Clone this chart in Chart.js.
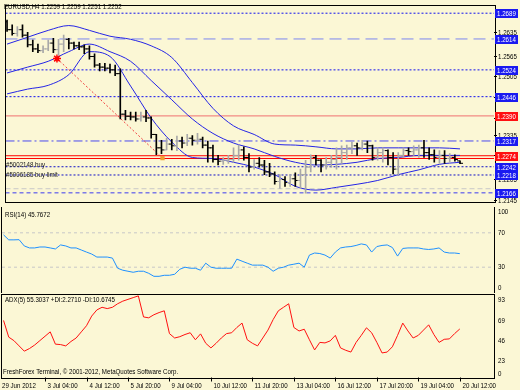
<!DOCTYPE html>
<html><head><meta charset="utf-8">
<script src="https://cdn.jsdelivr.net/npm/chart.js@4.4.1/dist/chart.umd.min.js"></script>
<style>
html,body{margin:0;padding:0;background:#FBF7D5;}
#wrap{position:relative;width:520px;height:390px;overflow:hidden;background:#FBF7D5;}
canvas{position:absolute;left:0;}
</style></head><body>
<div id="wrap">
<canvas id="c1" width="520" height="207" style="top:0px"></canvas>
<canvas id="c2" width="520" height="86" style="top:207px"></canvas>
<canvas id="c3" width="520" height="97" style="top:293px"></canvas>
</div>
<script>
// ---------- DATA ----------
const symbolTitle = "EURUSD,H4 1.2259 1.2259 1.2251 1.2252";
const opens = [1.2664,1.2641,1.2630,1.2641,1.2625,1.2597,1.2585,1.2580,1.2585,1.2602,
 1.2583,1.2599,1.2613,1.2602,1.2594,1.2591,1.2585,1.2563,1.2538,1.2532,
 1.2529,1.2524,1.2513,1.2395,1.2389,1.2387,1.2381,1.2387,1.2384,1.2336,
 1.2297,1.2291,1.2308,1.2303,1.2317,1.2311,1.2325,1.2319,1.2322,1.2305,
 1.2297,1.2263,1.2258,1.2261,1.2263,1.2275,1.2291,1.2269,1.2241,1.2252,
 1.2247,1.2227,1.2221,1.2199,1.2205,1.2196,1.2207,1.2202,1.2219,1.2241,
 1.2269,1.2261,1.2247,1.2255,1.2263,1.2269,1.2283,1.2297,1.2303,1.2297,
 1.2308,1.2303,1.2269,1.2283,1.2289,1.2269,1.2235,1.2275,1.2289,1.2286,
 1.2291,1.2297,1.2283,1.2277,1.2269,1.2275,1.2266,1.2269,1.2259];
const highs = [1.2669,1.2655,1.2650,1.2655,1.2633,1.2611,1.2599,1.2594,1.2611,1.2616,
 1.2613,1.2625,1.2616,1.2605,1.2605,1.2597,1.2594,1.2571,1.2543,1.2543,
 1.2541,1.2538,1.2527,1.2406,1.2401,1.2401,1.2401,1.2406,1.2387,1.2336,
 1.2319,1.2325,1.2322,1.2331,1.2328,1.2336,1.2333,1.2339,1.2328,1.2317,
 1.2305,1.2275,1.2269,1.2275,1.2297,1.2305,1.2300,1.2280,1.2263,1.2269,
 1.2261,1.2252,1.2227,1.2219,1.2213,1.2219,1.2224,1.2235,1.2261,1.2277,
 1.2275,1.2263,1.2269,1.2275,1.2297,1.2303,1.2305,1.2314,1.2311,1.2319,
 1.2317,1.2305,1.2297,1.2297,1.2291,1.2283,1.2283,1.2297,1.2297,1.2303,
 1.2305,1.2319,1.2297,1.2291,1.2289,1.2289,1.2280,1.2277,1.2259];
const lows = [1.2636,1.2625,1.2622,1.2619,1.2591,1.2577,1.2574,1.2574,1.2580,1.2574,
 1.2566,1.2577,1.2585,1.2585,1.2583,1.2571,1.2555,1.2532,1.2521,1.2521,
 1.2515,1.2507,1.2381,1.2378,1.2378,1.2375,1.2375,1.2373,1.2325,1.2277,
 1.2280,1.2291,1.2291,1.2289,1.2297,1.2303,1.2305,1.2308,1.2297,1.2255,
 1.2255,1.2247,1.2249,1.2252,1.2255,1.2261,1.2261,1.2227,1.2235,1.2241,
 1.2219,1.2213,1.2191,1.2179,1.2185,1.2185,1.2185,1.2179,1.2165,1.2227,
 1.2247,1.2227,1.2235,1.2241,1.2235,1.2252,1.2263,1.2280,1.2275,1.2291,
 1.2283,1.2261,1.2261,1.2255,1.2247,1.2221,1.2219,1.2269,1.2275,1.2275,
 1.2269,1.2269,1.2263,1.2255,1.2252,1.2252,1.2255,1.2258,1.2251];
const closes = [1.2641,1.2630,1.2641,1.2625,1.2597,1.2585,1.2580,1.2585,1.2602,1.2583,
 1.2599,1.2613,1.2602,1.2594,1.2591,1.2585,1.2563,1.2538,1.2532,1.2529,
 1.2524,1.2513,1.2395,1.2389,1.2387,1.2381,1.2387,1.2384,1.2336,1.2297,
 1.2291,1.2308,1.2303,1.2317,1.2311,1.2325,1.2319,1.2322,1.2305,1.2297,
 1.2263,1.2258,1.2261,1.2263,1.2275,1.2291,1.2269,1.2241,1.2252,1.2247,
 1.2227,1.2221,1.2199,1.2205,1.2196,1.2207,1.2202,1.2219,1.2241,1.2269,
 1.2261,1.2247,1.2255,1.2263,1.2269,1.2283,1.2297,1.2303,1.2297,1.2308,
 1.2303,1.2269,1.2283,1.2289,1.2269,1.2235,1.2275,1.2289,1.2286,1.2291,
 1.2297,1.2283,1.2277,1.2269,1.2275,1.2266,1.2269,1.2263,1.2252];

// Bollinger bands, read at every 4th bar
const bandIdx    = [0,4,8,12,16,20,24,28,32,36,40,44,48,52,56,60,64,68,72,76,80,84,88];
const bandUpper  = [1.2599,1.2619,1.2639,1.2653,1.2639,1.2622,1.2613,1.2594,1.2560,1.2487,1.2412,1.2361,1.2336,1.2308,1.2305,1.2300,1.2294,1.2294,1.2297,1.2297,1.2297,1.2297,1.2294];
const bandMiddle = [1.2515,1.2532,1.2549,1.2577,1.2599,1.2577,1.2549,1.2493,1.2437,1.2381,1.2339,1.2311,1.2294,1.2272,1.2255,1.2247,1.2249,1.2255,1.2266,1.2269,1.2275,1.2275,1.2275];
const bandLower  = [1.2454,1.2468,1.2479,1.2510,1.2577,1.2563,1.2477,1.2384,1.2314,1.2269,1.2266,1.2255,1.2241,1.2219,1.2185,1.2174,1.2182,1.2191,1.2202,1.2219,1.2233,1.2249,1.2255];

// trade history line (open -> close)
const tradeX = [9.7, 30.2];
const tradeY = [1.2557, 1.2267];

// horizontal levels
const levelValues = [1.2689,1.2614,1.2524,1.2446,1.2390,1.2317,1.2274,1.2266,1.2242,1.2218,1.2178,1.2166];
const boxedLevels = ["1.2689","1.2614","1.2524","1.2446","1.2390","1.2317","1.2274","1.2242","1.2218","1.2166"];
const priceTicks  = ["1.2635","1.2565","1.2505","1.2445","1.2385","1.2335","1.2275","1.2205","1.2145"];
const orderLabels = ["#5002148 buy","#5006185 buy limit"];

// RSI(14)
const rsiTitle = "RSI(14) 45.7672";
const rsi = [67.6,61.8,61.8,62,54.7,52.4,52.4,53.5,53.5,52.4,
 51.2,55.9,54.7,52.4,52.4,50,47.6,45.3,41.8,41.8,
 41.8,40.6,28.8,26.5,25.3,24.1,25.3,25.3,22.9,19.4,
 19.4,20.6,20.6,21.8,27.6,30,28.8,28.8,26.5,34.7,
 30,28.8,28.8,28.8,28.8,39.4,37,34.7,32.4,32.4,
 32.4,30,25.3,28.8,30,32.4,33.5,34.7,30,44.1,
 46.5,45.9,44.1,40.6,47.6,52.4,53.5,54,55.3,57.1,
 55.9,47.6,54,55.3,55.9,52.9,42.9,51.8,52.4,52.4,
 52.4,51.2,50.6,51.2,52.4,47.6,46.5,46.5,45.77];
const rsiLevels = [70,30];
const rsiTicks = ["100","70","30","0"];

// ADX(5)
const adxTitle = "ADX(5) 55.3037 +DI:2.2710 -DI:10.6745";
const adx = [65,46,42,36,30,33,37,42,47,52,
 38,37.5,36,41,45,52,59,70,77,80,
 78.5,80,84,87,89,91,93,69,68,71.5,
 74,76,50,45,46.5,49,51,43,49.7,39,
 33.7,39,45,50,51,57,62,43,39,36,
 45,54,66,76,80,84,57,53,55,43,
 31.4,40,39.4,41.7,48,33.7,31,29,40,48,
 56.6,51,40,28,29,35,48,62,53,45,
 48,54,60,49,40,43.5,44,50,55.3];
const adxTicks = ["93","69","46","23","0"];

// time axis
const timeTickIdx = [0,8,16,24,32,40,48,56,64,72,80,88];
const timeLabels = ["29 Jun 2012","3 Jul 04:00","4 Jul 12:00","5 Jul 20:00","9 Jul 04:00","10 Jul 12:00","11 Jul 20:00","13 Jul 04:00","16 Jul 12:00","17 Jul 20:00","19 Jul 04:00","20 Jul 12:00"];
const copyright = "FreshForex Terminal, \u00a9 2001-2012, MetaQuotes Software Corp.";

// ---------- STYLE / HELPERS ----------
const X_MIN = -0.3, X_MAX = 94.6;
const UP = '#A8A8A8', DOWN = '#000000';
const BAND = '#2424E6';
const FONT = '"Liberation Sans", Arial, sans-serif';

function txt(ctx, s, x, y, o) {
  o = o || {};
  ctx.save();
  ctx.font = (o.bold ? 'bold ' : '') + (o.size || 7.5) + 'px ' + FONT;
  ctx.fillStyle = o.color || '#000';
  ctx.textBaseline = o.base || 'middle';
  ctx.textAlign = o.align || 'left';
  ctx.translate(x, y);
  ctx.scale(o.sx || 0.82, 1);
  ctx.fillText(s, 0, 0);
  ctx.restore();
}
function frame(ctx, a) {
  ctx.save();
  ctx.strokeStyle = '#000';
  ctx.lineWidth = 1;
  ctx.strokeRect(Math.round(a.left) - 0.5, Math.round(a.top) - 0.5, Math.round(a.right - a.left) + 1, Math.round(a.bottom - a.top) + 1);
  ctx.restore();
}
const baseOpts = (pad, ymin, ymax) => ({
  responsive: false, animation: false, events: [],
  layout: { padding: pad },
  plugins: { legend: { display: false }, tooltip: { enabled: false } },
  scales: {
    x: { type: 'linear', min: X_MIN, max: X_MAX, display: false, offset: false },
    y: { type: 'linear', min: ymin, max: ymax, display: false }
  }
});
const hline = (v, color, dash, width, order) => ({
  type: 'line', data: [{ x: X_MIN, y: v }, { x: X_MAX, y: v }],
  borderColor: color, borderDash: dash, borderWidth: width || 1, pointRadius: 0, order: order || 20
});

// level styles
const levelStyle = {
  1.2689: ['#1010F0', [2, 2]], 1.2614: ['#7C86F0', [12, 6]], 1.2524: ['#1010F0', [2, 2]],
  1.2446: ['#1010F0', [2, 2]], 1.2390: ['#F07070', []], 1.2317: ['#4A4AF0', [9, 3, 2, 3]],
  1.2274: ['#FF0000', []], 1.2266: ['#FF0000', []], 1.2242: ['#1010C8', [2, 2]],
  1.2218: ['#1010C8', [2, 2]], 1.2178: ['#C8C8C8', [5, 3]], 1.2166: ['#3A3AF0', [4, 3]]
};
const boxColor = v => (v === '1.2390' || v === '1.2274') ? '#FF1010' : '#1A1AF0';

// ---------- MAIN PRICE CHART ----------
const mainPlugin = {
  id: 'mainDeco',
  afterDraw(chart) {
    const ctx = chart.ctx, a = chart.chartArea, ys = chart.scales.y;
    frame(ctx, a);
    txt(ctx, symbolTitle, 4, 7);
    txt(ctx, orderLabels[0], 6, 165, { color: '#202020' });
    txt(ctx, orderLabels[1], 6, 175, { color: '#202020' });
    ctx.save();
    priceTicks.forEach(t => {
      const y = Math.round(ys.getPixelForValue(parseFloat(t))) + 0.5;
      ctx.strokeStyle = '#000'; ctx.beginPath(); ctx.moveTo(a.right, y); ctx.lineTo(a.right + 3, y); ctx.stroke();
      txt(ctx, t, a.right + 4, y);
    });
    boxedLevels.forEach(t => {
      const y = Math.round(ys.getPixelForValue(parseFloat(t)));
      ctx.fillStyle = boxColor(t);
      ctx.fillRect(a.right + 1, y - 4, 23, 9);
      txt(ctx, t, a.right + 3, y + 0.5, { color: '#FFFFFF' });
    });
    ctx.restore();
  }
};
const ds1 = [];
levelValues.forEach(v => { const s = levelStyle[v]; ds1.push(hline(v, s[0], s[1], 1, 20)); });
[bandUpper, bandMiddle, bandLower].forEach(b => ds1.push({
  type: 'line', data: bandIdx.map((x, k) => ({ x: x, y: b[k] })), borderColor: BAND, borderWidth: 1,
  pointRadius: 0, cubicInterpolationMode: 'monotone', order: 10
}));
ds1.push({
  type: 'line', data: tradeX.map((x, k) => ({ x: x, y: tradeY[k] })), borderColor: '#F04040', borderDash: [2, 2],
  borderWidth: 1, pointRadius: [4, 2], pointStyle: ['star', 'rect'], pointBorderColor: ['#FF0000', '#F0A030'],
  pointBackgroundColor: ['#FF0000', '#F0A030'], pointBorderWidth: 1.5, order: 8
});
const barCols = closes.map((c, i) => c >= opens[i] ? UP : DOWN);
ds1.push({
  type: 'bar', data: highs.map((h, i) => ({ x: i, y: [lows[i], h] })), backgroundColor: barCols,
  barThickness: 1, borderWidth: 0, grouped: false, order: 2
});
ds1.push({
  type: 'line', data: opens.map((o, i) => ({ x: i - 0.29, y: o })), showLine: false, pointStyle: 'line',
  pointRadius: 1.5, pointBorderColor: barCols, pointBorderWidth: 1, order: 1
});
ds1.push({
  type: 'line', data: closes.map((c, i) => ({ x: i + 0.29, y: c })), showLine: false, pointStyle: 'line',
  pointRadius: 1.5, pointBorderColor: barCols, pointBorderWidth: 1, order: 1
});
new Chart(document.getElementById('c1'), {
  type: 'bar', data: { datasets: ds1 },
  options: baseOpts({ left: 2, right: 26, top: 2, bottom: 1 }, 1.21408, 1.27114),
  plugins: [mainPlugin]
});

// ---------- RSI ----------
const rsiPlugin = {
  id: 'rsiDeco',
  afterDraw(chart) {
    const ctx = chart.ctx, a = chart.chartArea, ys = chart.scales.y;
    frame(ctx, a);
    txt(ctx, rsiTitle, 5, 8);
    rsiTicks.forEach(t => {
      let y = ys.getPixelForValue(parseFloat(t));
      y = Math.max(a.top + 5, Math.min(a.bottom - 5, y));
      txt(ctx, t, a.right + 4, y);
    });
  }
};
const ds2 = rsiLevels.map(v => hline(v, '#C8C8C8', [3, 3], 1, 20));
ds2.push({ type: 'line', data: rsi.map((v, i) => ({ x: i, y: v })), borderColor: '#1E90FF', borderWidth: 1, pointRadius: 0, order: 1 });
new Chart(document.getElementById('c2'), {
  type: 'line', data: { datasets: ds2 },
  options: baseOpts({ left: 2, right: 26, top: 0, bottom: 0 }, 0, 100),
  plugins: [rsiPlugin]
});

// ---------- ADX + TIME AXIS ----------
const adxPlugin = {
  id: 'adxDeco',
  afterDraw(chart) {
    const ctx = chart.ctx, a = chart.chartArea, ys = chart.scales.y, xs = chart.scales.x;
    frame(ctx, a);
    txt(ctx, adxTitle, 5, 7);
    adxTicks.forEach(t => {
      let y = ys.getPixelForValue(parseFloat(t)) + 4;
      y = Math.max(a.top + 4, Math.min(a.bottom - 4, y));
      txt(ctx, t, a.right + 4, y);
    });
    txt(ctx, copyright, 3, a.bottom - 6, { color: '#000' });
    ctx.save();
    ctx.strokeStyle = '#000';
    timeTickIdx.forEach((ix, k) => {
      const x = Math.round(xs.getPixelForValue(ix)) + 0.5;
      if (k > 0) { ctx.beginPath(); ctx.moveTo(x, a.bottom); ctx.lineTo(x, a.bottom + 4); ctx.stroke(); }
      txt(ctx, timeLabels[k], k === 0 ? 2 : x + 2, a.bottom + 8);
    });
    ctx.restore();
  }
};
new Chart(document.getElementById('c3'), {
  type: 'line',
  data: { datasets: [{ type: 'line', data: adx.map((v, i) => ({ x: i, y: v })), borderColor: '#FF1010', borderWidth: 1, pointRadius: 0 }] },
  options: baseOpts({ left: 2, right: 26, top: 2, bottom: 12.5 }, 0, 94),
  plugins: [adxPlugin]
});
</script>
</body></html>
